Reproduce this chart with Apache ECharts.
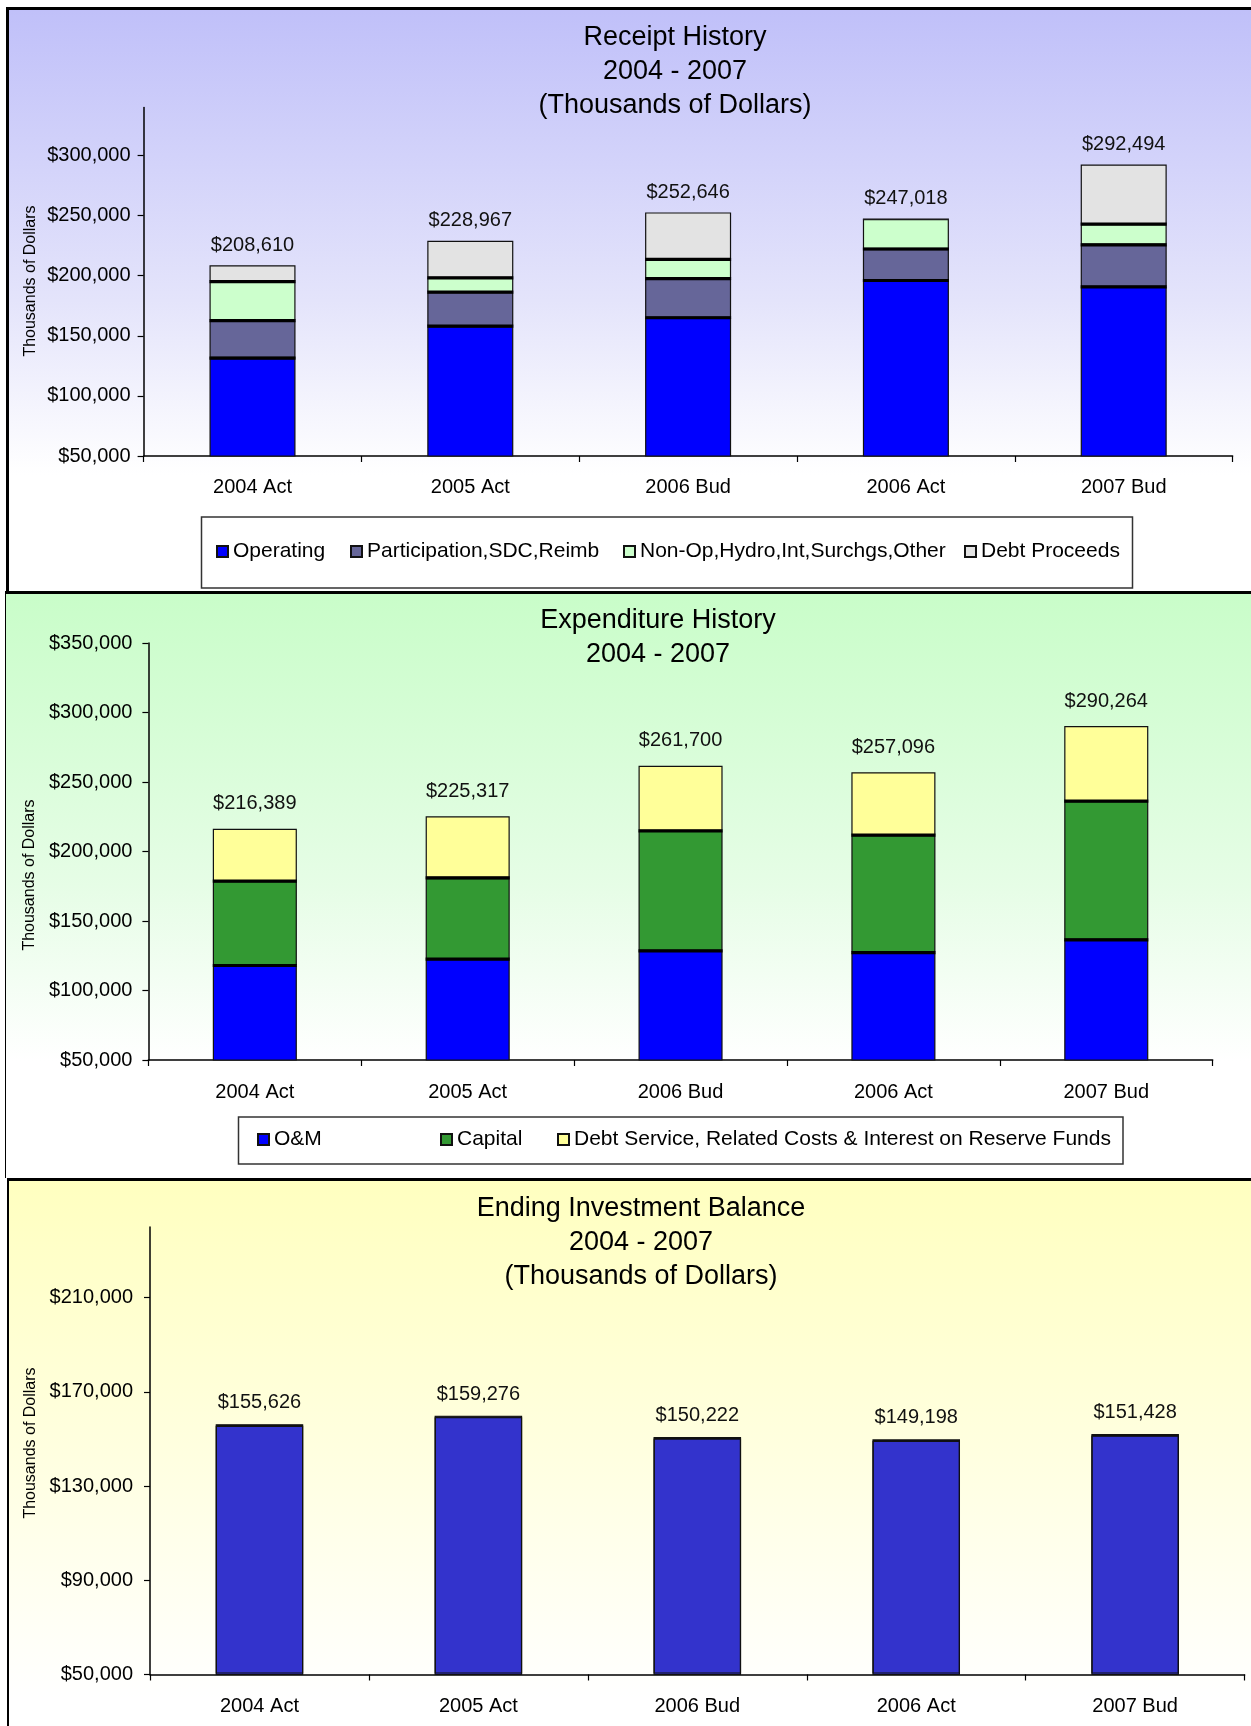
<!DOCTYPE html>
<html>
<head>
<meta charset="utf-8">
<title>Receipt, Expenditure and Ending Balance 2004 - 2007</title>
<script src="https://cdn.jsdelivr.net/npm/echarts@6/dist/echarts.min.js"></script>
<style>
  html, body { margin: 0; padding: 0; background: #fff; }
  #wrap { position: relative; width: 1251px; height: 1726px; overflow: hidden; }
  .panel { position: absolute; right: 0; box-sizing: border-box; }
  #p1 { left: 6px; top: 7px; height: 584px; border-top: 3px solid #000; border-left: 3px solid #000;
        background: linear-gradient(#c0c0f9 0%, #e4e4fb 50%, #ffffff 80%); }
  #p2 { left: 5px; top: 591px; height: 587px; border-top: 3px solid #000; border-left: 1px solid #000;
        background: linear-gradient(#c9fdc9 0%, #e6fde6 50%, #ffffff 80%); }
  #p3 { left: 7px; top: 1178px; height: 548px; border-top: 3px solid #000; border-left: 2px solid #000;
        background: linear-gradient(#ffffc0 0%, #ffffe0 50%, #ffffff 95%); }
  #chart { position: absolute; left: 0; top: 0; width: 1251px; height: 1726px; }
</style>
</head>
<body>
<div id="wrap">
  <div class="panel" id="p1"></div>
  <div class="panel" id="p2"></div>
  <div class="panel" id="p3"></div>
  <div id="chart"></div>
</div>
<script>
// data (thousands of dollars)
const categories = ['2004 Act', '2005 Act', '2006 Bud', '2006 Act', '2007 Bud']

const receiptOperating = [131500, 158000, 165000, 196000, 190700]
const receiptParticipation = [31200, 28300, 32500, 26200, 35000]
const receiptNonOp = [32400, 11900, 16000, 24818, 17200]
const receiptDebt = [13510, 30767, 39146, 0, 49594]

const expOM = [118000, 122600, 128500, 127300, 136500]
const expCapital = [60700, 58400, 86400, 84500, 99800]
const expDebtService = [37689, 44317, 46800, 45296, 53964]

const endingBalance = [155626, 159276, 150222, 149198, 151428]

const receiptTicks = [50000, 100000, 150000, 200000, 250000, 300000]
const expTicks = [50000, 100000, 150000, 200000, 250000, 300000, 350000]
const endingTicks = [50000, 90000, 130000, 170000, 210000]

const FONT = "'Liberation Sans', Arial, sans-serif"
const BAR_W = 0.395
const money = v => '$' + Math.round(v).toLocaleString('en-US')
const stackTotal = (arrs, i) => arrs.reduce((s, a) => s + a[i], 0)

const chart = echarts.init(document.getElementById('chart'), null, { renderer: 'canvas' })

function xAxisFor (gi, margin) {
  return {
    type: 'category', gridIndex: gi, data: categories,
    axisLine: { lineStyle: { color: '#000', width: 1.5 } },
    axisTick: { show: true, length: 6, lineStyle: { color: '#000', width: 1.2 } },
    axisLabel: { color: '#000', fontSize: 20, fontFamily: FONT, margin }
  }
}

function yAxisFor (gi, min, max, interval, ticks, margin) {
  return {
    type: 'value', gridIndex: gi, min, max, interval,
    axisLine: { show: true, lineStyle: { color: '#000', width: 1.5 } },
    axisTick: { show: true, length: 6, customValues: ticks, lineStyle: { color: '#000', width: 1.2 } },
    axisLabel: { color: '#000', fontSize: 20, fontFamily: FONT, margin, customValues: ticks, formatter: money },
    splitLine: { show: false }
  }
}

function stackSeries (name, data, color, gi, stack) {
  return {
    type: 'bar', name, data, stack, barWidth: (BAR_W * 100) + '%',
    xAxisIndex: gi, yAxisIndex: gi,
    itemStyle: { color, borderColor: '#111', borderWidth: 1.2 }
  }
}

// thick black seams between stacked segments, placed through the axes
function seamSeries (arrs, gi) {
  const pts = []
  categories.forEach((c, i) => {
    let cum = 0
    for (let k = 0; k < arrs.length - 1; k++) {
      cum += arrs[k][i]
      if (arrs[k][i] > 0 && arrs[k + 1][i] > 0) pts.push([i, cum])
    }
  })
  return {
    type: 'custom', xAxisIndex: gi, yAxisIndex: gi, z: 3, silent: true,
    data: pts,
    renderItem: (params, api) => {
      const p = api.coord([api.value(0), api.value(1)])
      const w = api.size([1, 0])[0] * BAR_W
      return { type: 'rect', shape: { x: p[0] - w / 2, y: p[1] - 1.6, width: w, height: 3.2 }, style: { fill: '#000' } }
    }
  }
}

function legendAt (name, x, y) {
  return {
    data: [name], left: x, top: y, padding: 0, icon: 'rect',
    itemWidth: 11, itemHeight: 11, itemGap: 0, selectedMode: false,
    textStyle: { fontSize: 21, color: '#000', fontFamily: FONT }
  }
}

const receiptArrs = [receiptOperating, receiptParticipation, receiptNonOp, receiptDebt]
const expArrs = [expOM, expCapital, expDebtService]

const receiptSeries = [
  stackSeries('Operating', receiptOperating, '#0000ff', 0, 'r'),
  stackSeries('Participation,SDC,Reimb', receiptParticipation, '#666699', 0, 'r'),
  stackSeries('Non-Op,Hydro,Int,Surchgs,Other', receiptNonOp, '#ccffcc', 0, 'r'),
  stackSeries('Debt Proceeds', receiptDebt, '#e3e3e3', 0, 'r')
]
receiptSeries[3].label = {
  show: true, position: 'top', distance: 10, color: '#111', fontSize: 20, fontFamily: FONT,
  formatter: p => money(stackTotal(receiptArrs, p.dataIndex))
}

const expSeries = [
  stackSeries('O&M', expOM, '#0000ff', 1, 'e'),
  stackSeries('Capital', expCapital, '#339933', 1, 'e'),
  stackSeries('Debt Service, Related Costs & Interest on Reserve Funds', expDebtService, '#ffff99', 1, 'e')
]
expSeries[2].label = {
  show: true, position: 'top', distance: 15, color: '#111', fontSize: 20, fontFamily: FONT,
  formatter: p => money(stackTotal(expArrs, p.dataIndex))
}

const endingSeries = {
  type: 'bar', name: 'Ending Investment Balance', data: endingBalance, barWidth: '40%',
  xAxisIndex: 2, yAxisIndex: 2,
  itemStyle: { color: '#3333cc', borderColor: '#111', borderWidth: 1.2, shadowColor: '#111', shadowBlur: 0, shadowOffsetY: -1.5 },
  label: { show: true, position: 'top', distance: 13, color: '#111', fontSize: 20, fontFamily: FONT, formatter: p => money(p.value) }
}

const titleStyle = { fill: '#000', font: '27px ' + FONT, align: 'center', verticalAlign: 'top', lineHeight: 34 }
const axisNameStyle = { fill: '#000', font: '16px ' + FONT, align: 'center', verticalAlign: 'middle' }

chart.setOption({
  animation: false,
  backgroundColor: 'transparent',
  textStyle: { fontFamily: FONT },
  grid: [
    { left: 143.6, top: 107.4, width: 1089, height: 348.6 },
    { left: 148.4, top: 643.1, width: 1064.3, height: 416.9 },
    { left: 150, top: 1227, width: 1094.6, height: 447.5 }
  ],
  xAxis: [xAxisFor(0, 21), xAxisFor(1, 22), xAxisFor(2, 22)],
  yAxis: [
    yAxisFor(0, 50000, 340000, 50000, receiptTicks, 13),
    yAxisFor(1, 50000, 350000, 50000, expTicks, 16),
    yAxisFor(2, 50000, 240000, 40000, endingTicks, 17)
  ],
  legend: [
    legendAt('Operating', 216, 541),
    legendAt('Participation,SDC,Reimb', 350, 541),
    legendAt('Non-Op,Hydro,Int,Surchgs,Other', 623, 541),
    legendAt('Debt Proceeds', 964, 541),
    legendAt('O&M', 257, 1129),
    legendAt('Capital', 440, 1129),
    legendAt('Debt Service, Related Costs & Interest on Reserve Funds', 557, 1129)
  ],
  graphic: [
    { type: 'rect', z: 1, shape: { x: 201.5, y: 517, width: 931, height: 71 }, style: { fill: '#fff', stroke: '#333', lineWidth: 1.5 } },
    { type: 'rect', z: 1, shape: { x: 238.5, y: 1117, width: 884.5, height: 47 }, style: { fill: '#fff', stroke: '#333', lineWidth: 1.5 } },
    { type: 'text', x: 675, y: 20.5, style: Object.assign({ text: 'Receipt History\n2004 - 2007\n(Thousands of Dollars)' }, titleStyle) },
    { type: 'text', x: 658, y: 604, style: Object.assign({ text: 'Expenditure History\n2004 - 2007' }, titleStyle) },
    { type: 'text', x: 641, y: 1192, style: Object.assign({ text: 'Ending Investment Balance\n2004 - 2007\n(Thousands of Dollars)' }, titleStyle) },
    { type: 'text', x: 31, y: 281, rotation: Math.PI / 2, style: Object.assign({ text: 'Thousands of Dollars' }, axisNameStyle) },
    { type: 'text', x: 30, y: 875, rotation: Math.PI / 2, style: Object.assign({ text: 'Thousands of Dollars' }, axisNameStyle) },
    { type: 'text', x: 31, y: 1443, rotation: Math.PI / 2, style: Object.assign({ text: 'Thousands of Dollars' }, axisNameStyle) }
  ],
  series: [
    ...receiptSeries, seamSeries(receiptArrs, 0),
    ...expSeries, seamSeries(expArrs, 1),
    endingSeries
  ]
})
</script>
</body>
</html>
